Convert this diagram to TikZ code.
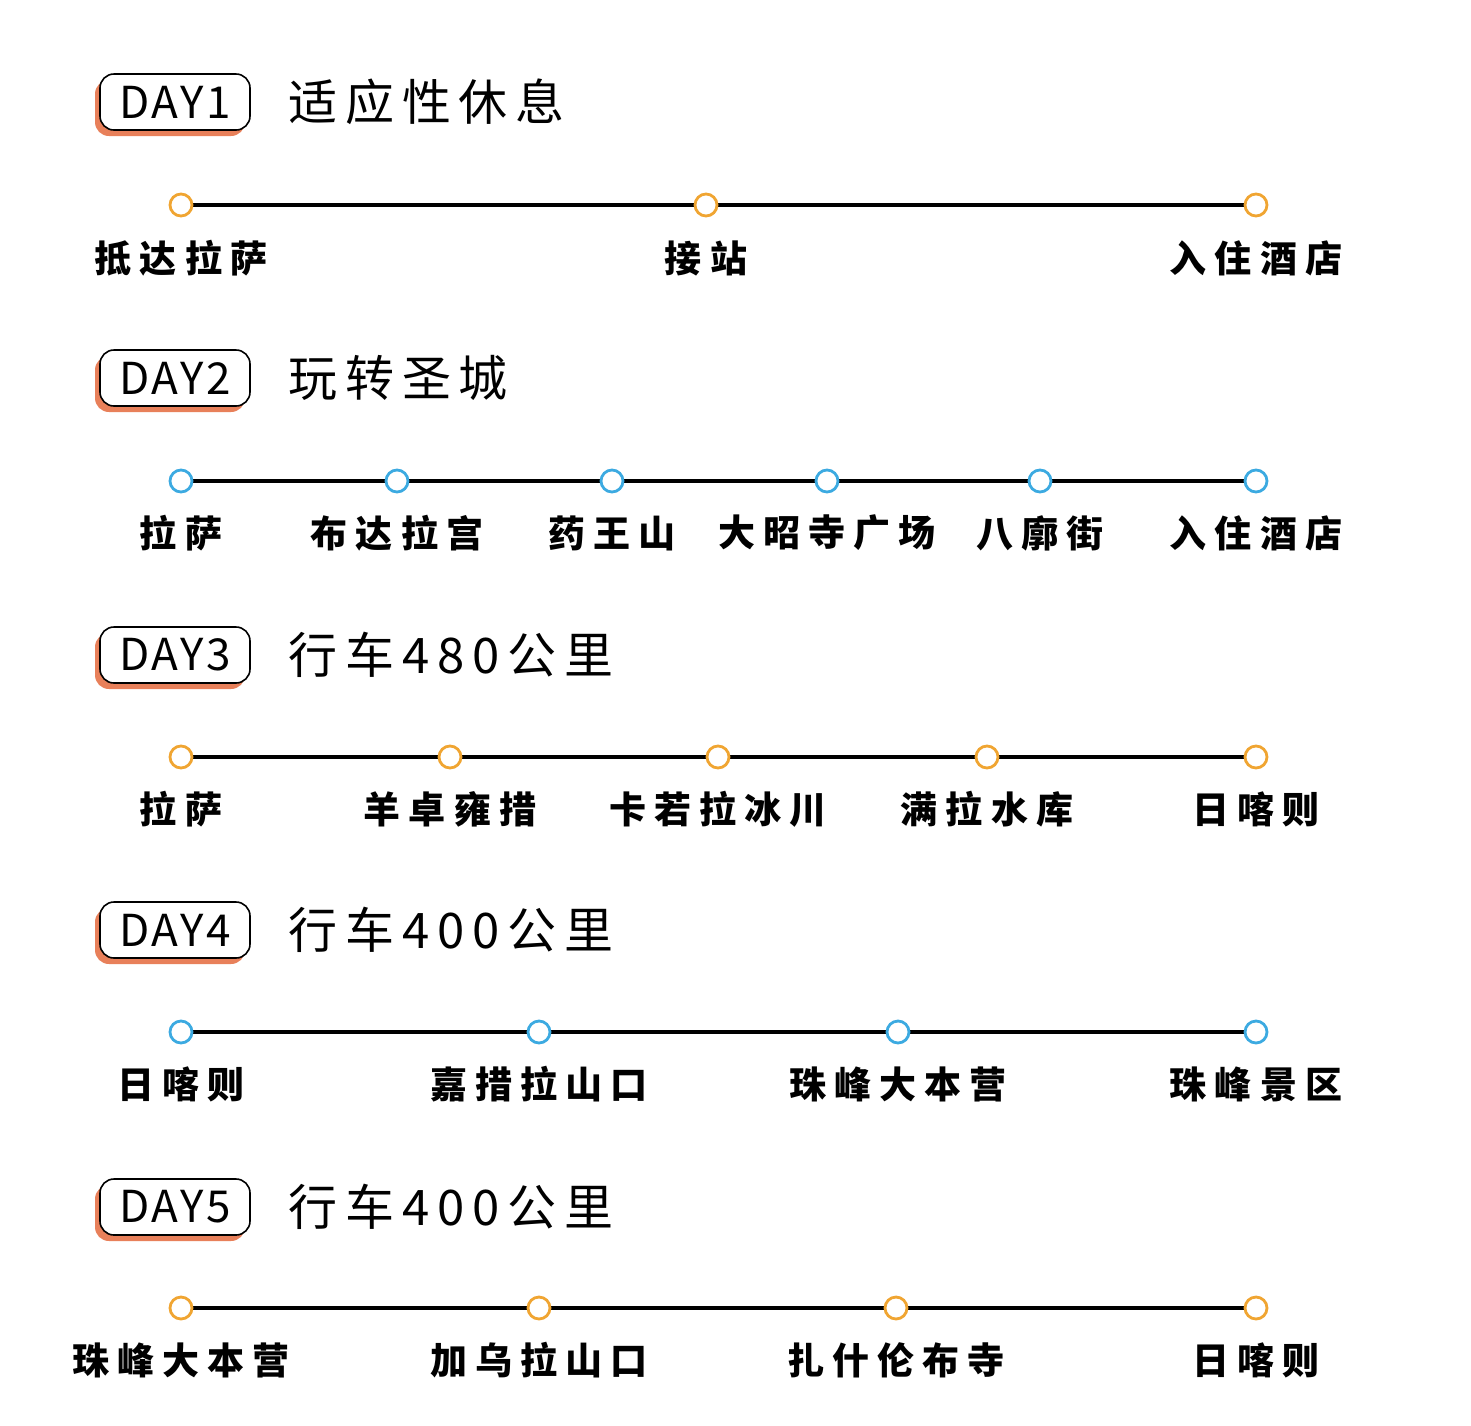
\documentclass[tikz,border=0pt]{standalone}
\usepackage{fontspec}
\setmainfont{Noto Sans CJK SC}
\newfontfamily\stopfont[LetterSpace=22]{Noto Sans CJK SC}
\newfontfamily\titlefont[LetterSpace=16]{Noto Sans CJK SC}
\newfontfamily\dayfont[LetterSpace=6]{Noto Sans CJK SC}
\usetikzlibrary{positioning}
\definecolor{stoporange}{RGB}{240,165,50}
\definecolor{stopblue}{RGB}{60,170,225}
\definecolor{shadowred}{RGB}{232,128,90}

\begin{document}
\begin{tikzpicture}[x=0.5pt, y=-0.5pt]
    \tikzstyle{badge} = [rectangle, rounded corners=7pt, minimum width=75pt, minimum height=28pt, draw=black, line width=0.8pt, fill=white, font=\dayfont\fontsize{22}{22}\selectfont, inner sep=0pt]
    \tikzstyle{shade} = [rectangle, rounded corners=7pt, minimum width=75pt, minimum height=28pt, fill=shadowred, inner sep=0pt]
    \tikzstyle{title} = [anchor=west, font=\titlefont\fontsize{24.5}{24.5}\selectfont, inner sep=0pt]
    \tikzstyle{stop} = [circle, minimum size=11pt, inner sep=0pt, line width=1.4pt, fill=white]
    \tikzstyle{place} = [font=\stopfont\bfseries\fontsize{18.5}{18.5}\selectfont, inner sep=0pt]
    \tikzstyle{route} = [line width=2pt]

    \useasboundingbox (0,0) rectangle (1471,1425);

    % Day headings
    \foreach \d/\y/\t in {1/102/适应性休息, 2/378/玩转圣城, 3/655/行车480公里, 4/930/行车400公里, 5/1207/行车400公里} {
        \node [shade] (sh\d) at (170,\y+6) {};
        \node [badge] (day\d) at (175,\y) {DAY\d};
        \node [title] (title\d) at (288,\y) {\t};
    }

    % Day 1
    \foreach \i/\x/\n in {1/181/抵达拉萨, 2/706/接站, 3/1256/入住酒店}
        \node [place] (pa\i) at (\x,258) {\n};
    \draw [route] (181,205) -- (1256,205);
    \foreach \i/\x in {1/181, 2/706, 3/1256}
        \node [stop, draw=stoporange] (a\i) at (\x,205) {};

    % Day 2
    \foreach \i/\x/\n in {1/181/拉萨, 2/397/布达拉宫, 3/612/药王山, 4/827/大昭寺广场, 5/1040/八廓街, 6/1256/入住酒店}
        \node [place] (pb\i) at (\x,533) {\n};
    \draw [route] (181,481) -- (1256,481);
    \foreach \i/\x in {1/181, 2/397, 3/612, 4/827, 5/1040, 6/1256}
        \node [stop, draw=stopblue] (b\i) at (\x,481) {};

    % Day 3
    \foreach \i/\x/\n in {1/181/拉萨, 2/450/羊卓雍措, 3/718/卡若拉冰川, 4/987/满拉水库, 5/1256/日喀则}
        \node [place] (pc\i) at (\x,809) {\n};
    \draw [route] (181,757) -- (1256,757);
    \foreach \i/\x in {1/181, 2/450, 3/718, 4/987, 5/1256}
        \node [stop, draw=stoporange] (c\i) at (\x,757) {};

    % Day 4
    \foreach \i/\x/\n in {1/181/日喀则, 2/539/嘉措拉山口, 3/898/珠峰大本营, 4/1256/珠峰景区}
        \node [place] (pd\i) at (\x,1084) {\n};
    \draw [route] (181,1032) -- (1256,1032);
    \foreach \i/\x in {1/181, 2/539, 3/898, 4/1256}
        \node [stop, draw=stopblue] (d\i) at (\x,1032) {};

    % Day 5
    \foreach \i/\x/\n in {1/181/珠峰大本营, 2/539/加乌拉山口, 3/896/扎什伦布寺, 4/1256/日喀则}
        \node [place] (pe\i) at (\x,1360) {\n};
    \draw [route] (181,1308) -- (1256,1308);
    \foreach \i/\x in {1/181, 2/539, 3/896, 4/1256}
        \node [stop, draw=stoporange] (e\i) at (\x,1308) {};
\end{tikzpicture}
\end{document}
